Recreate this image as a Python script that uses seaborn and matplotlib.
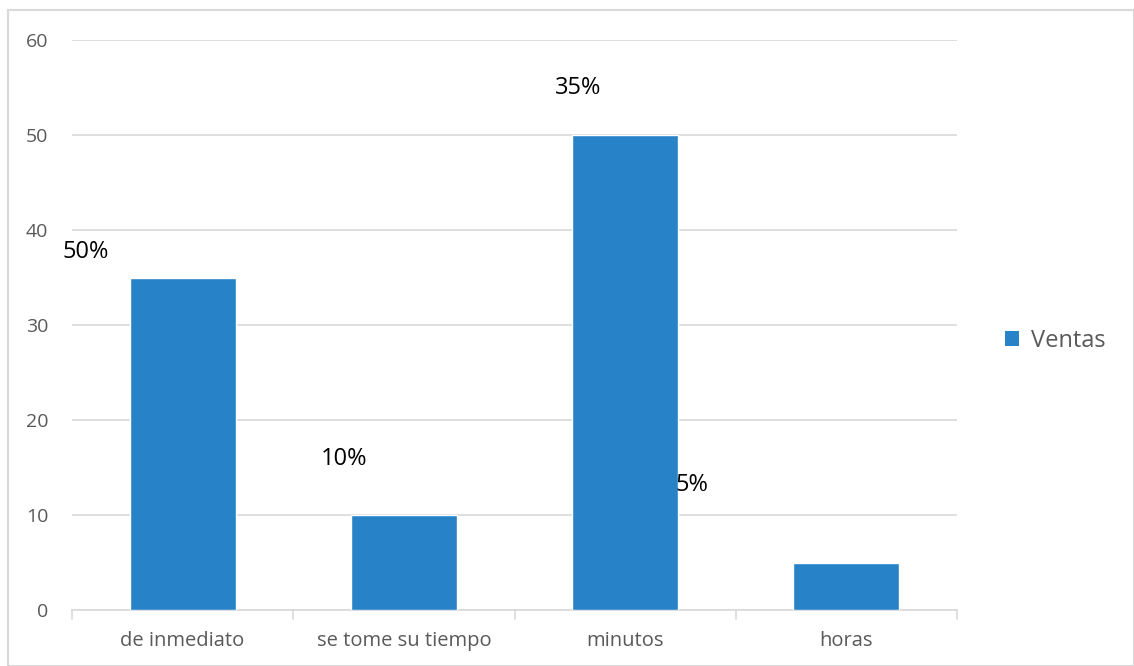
import matplotlib
matplotlib.use("Agg")
import matplotlib.pyplot as plt
import seaborn as sns
import pandas as pd
from matplotlib.patches import Rectangle, Patch

categories = ["de inmediato", "se tome su tiempo", "minutos", "horas"]
values = [35, 10, 50, 5]
pct_labels = ["50%", "10%", "35%", "5%"]
# label anchor positions (data coords) as they appear in the reference
label_x = [-0.44, 0.73, 1.787, 2.30]
label_y = [37.7, 15.9, 54.9, 13.2]
yticks = [0, 10, 20, 30, 40, 50, 60]
series_name = "Ventas"

sns.set_theme(style="white")
plt.rcParams['font.family'] = ['Open Sans', 'DejaVu Sans']

df = pd.DataFrame({"cat": categories, "val": values})

fig = plt.figure(figsize=(11.34, 6.66), dpi=100)
ax = fig.add_axes([72/1134, 56/666, (957-72)/1134, (610-40)/666])

sns.barplot(data=df, x="cat", y="val", color="#2882C8", width=0.48,
            saturation=1, ax=ax, zorder=3)

ax.set_ylim(0, 60)
ax.set_xlim(-0.5, 3.5)
ax.set_yticks(yticks)
ax.grid(axis="y", color="#d9d9d9", linewidth=1.2, zorder=0)
ax.set_axisbelow(True)
for s in ["top", "right", "left"]:
    ax.spines[s].set_visible(False)
ax.spines["bottom"].set_color("#d9d9d9")
ax.spines["bottom"].set_linewidth(1.2)
ax.set_xlabel("")
ax.set_ylabel("")
ax.tick_params(axis="y", length=0, labelsize=14, labelcolor="#595959", pad=17)
ax.tick_params(axis="x", length=0, labelsize=14.5, labelcolor="#595959", pad=15)
# category boundary tick marks
for b in [-0.5, 0.5, 1.5, 2.5, 3.5]:
    ax.plot([b, b], [0, -0.9], color="#d9d9d9", lw=1.2, clip_on=False)

for lx, ly, t in zip(label_x, label_y, pct_labels):
    ax.text(lx, ly, t, ha="center", va="center", fontsize=17, color="black")

handle = Patch(facecolor="#2882C8", edgecolor="none", label=series_name)
fig.legend(handles=[handle], loc="center left", bbox_to_anchor=(984/1134, 1 - 341/666),
           frameon=False, fontsize=17, labelcolor="#595959", handlelength=0.6,
           handleheight=0.6, handletextpad=0.5)

fig.patches.append(Rectangle((8/1134, 0), 1 - 8/1134, 1 - 10/666, transform=fig.transFigure,
                             fill=False, edgecolor="#d9d9d9", linewidth=1.5))

fig.savefig("out.png", dpi=100)
